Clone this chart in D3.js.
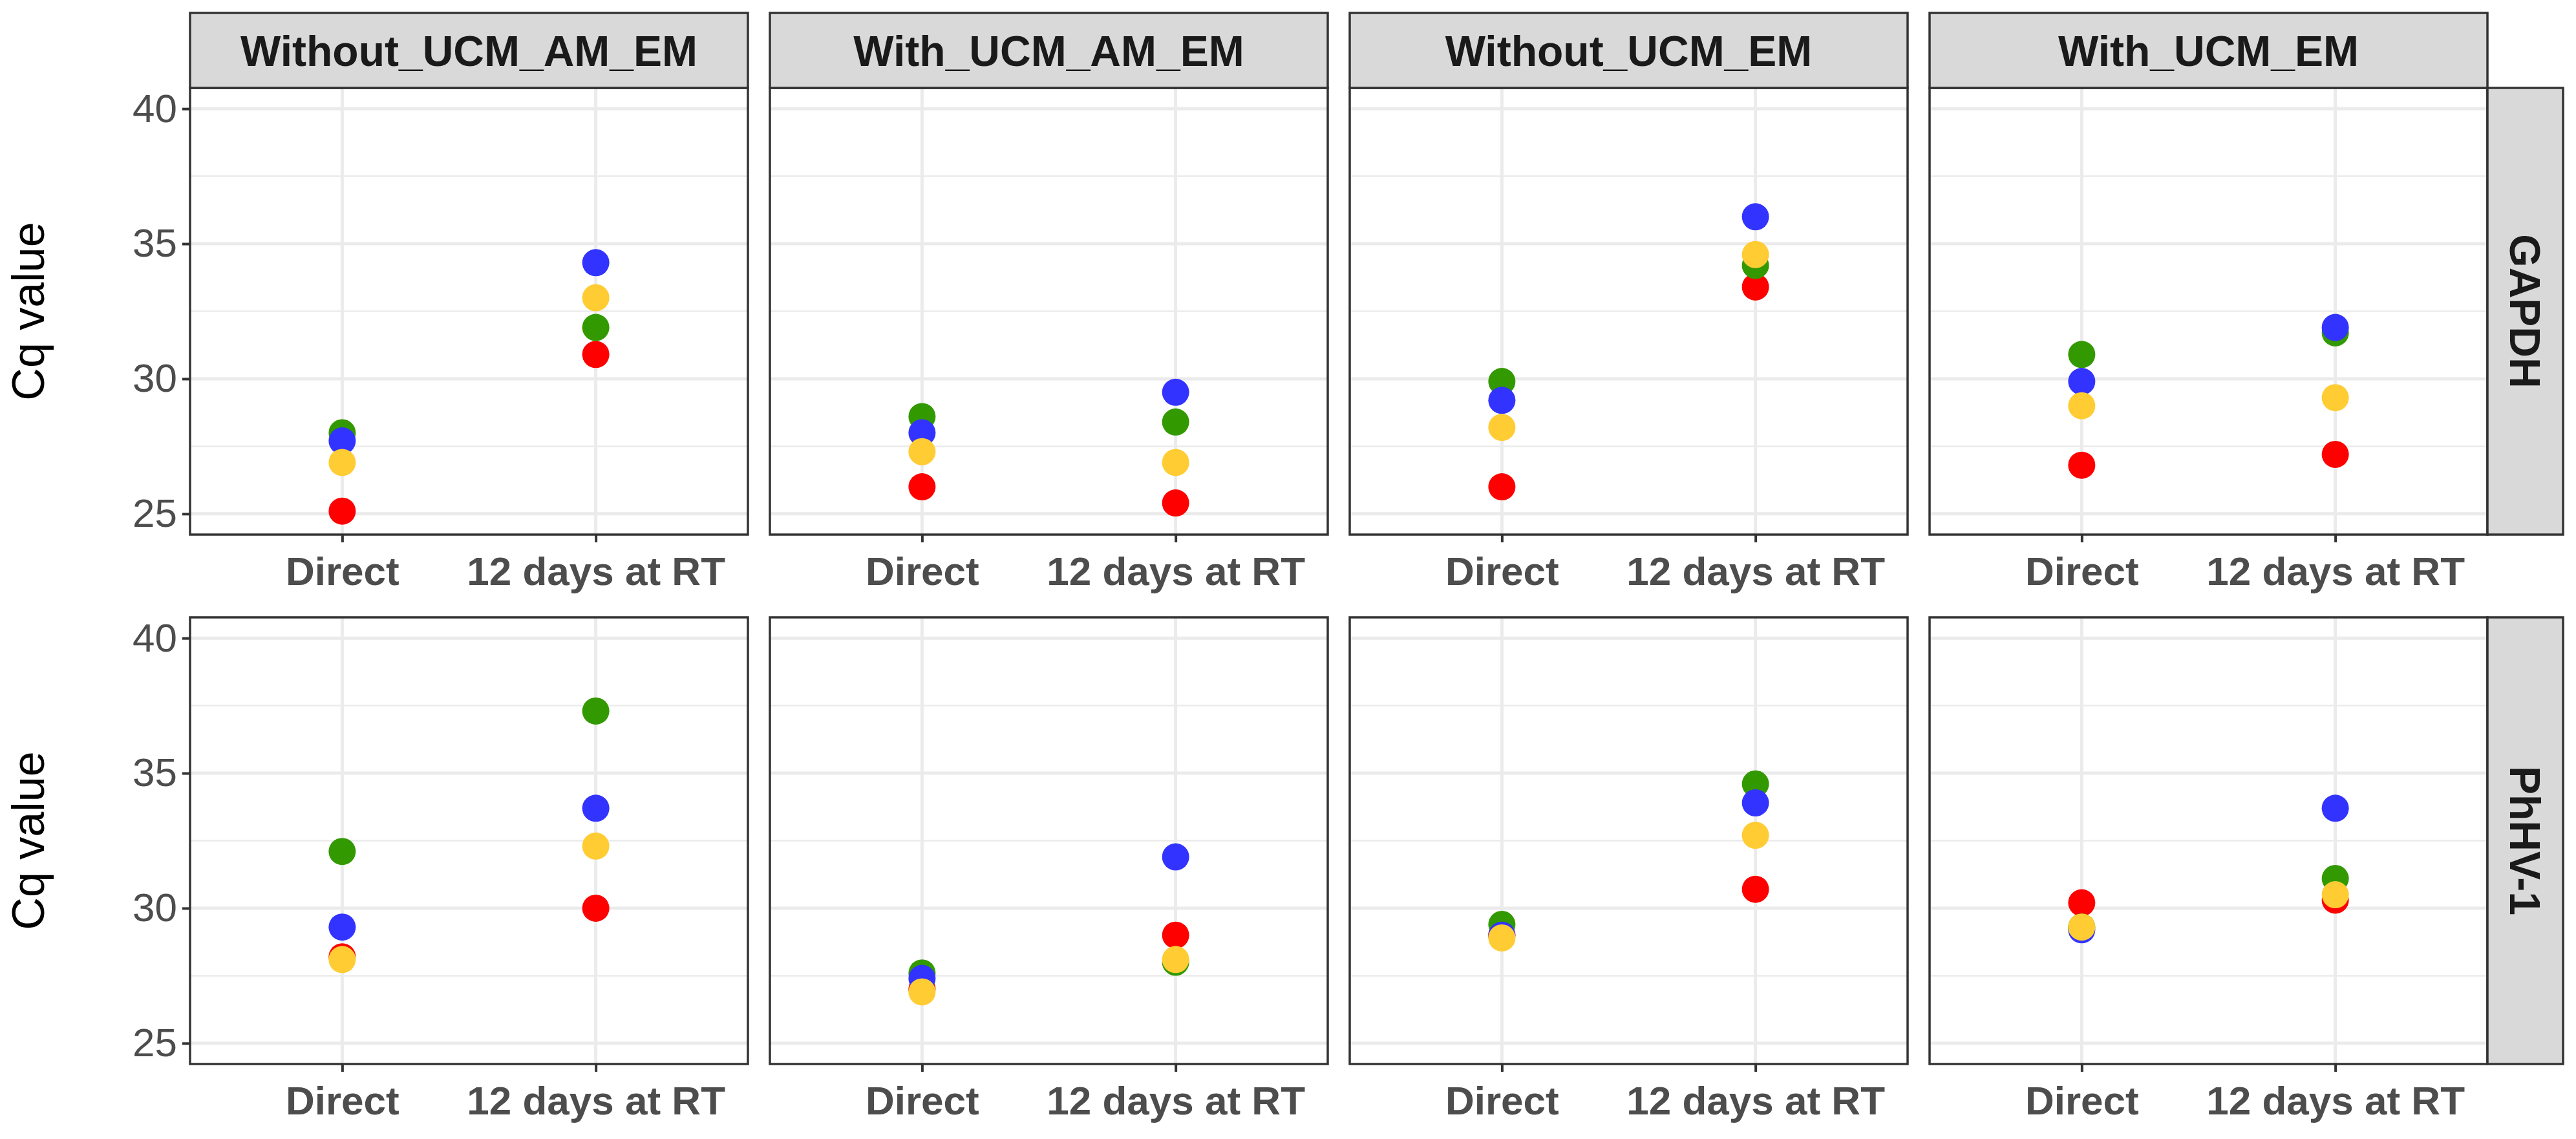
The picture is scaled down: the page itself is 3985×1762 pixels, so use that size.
<!DOCTYPE html><html><head><script src="https://d3js.org/d3.v7.min.js"></script>
<style>body{margin:0;background:#fff}text{font-family:Arial,"Liberation Sans",sans-serif}</style></head><body><svg id="c" width="3985" height="1762"></svg>
<script>
const conditions=["Without_UCM_AM_EM","With_UCM_AM_EM","Without_UCM_EM","With_UCM_EM"];
const targets=["GAPDH","PhHV-1"];
const timepoints=["Direct","12 days at RT"];
const seriesNames=["red","green","blue","yellow"];
const seriesColors=["#FF0000","#339900","#3333FF","#FFCC33"];
const yTicks=[25,30,35,40];
// values[target][condition][series] = [Direct, 12 days]
const gapdhRed=[[25.1,30.9],[26.0,25.4],[26.0,33.4],[26.8,27.2]];
const gapdhGreen=[[28.0,31.9],[28.6,28.4],[29.9,34.2],[30.9,31.7]];
const gapdhBlue=[[27.7,34.3],[28.0,29.5],[29.2,36.0],[29.9,31.9]];
const gapdhYellow=[[26.9,33.0],[27.3,26.9],[28.2,34.6],[29.0,29.3]];
const phhvRed=[[28.2,30.0],[27.0,29.0],[29.0,30.7],[30.2,30.3]];
const phhvGreen=[[32.1,37.3],[27.6,28.0],[29.4,34.6],[29.3,31.1]];
const phhvBlue=[[29.3,33.7],[27.4,31.9],[29.0,33.9],[29.2,33.7]];
const phhvYellow=[[28.1,32.3],[26.9,28.1],[28.9,32.7],[29.3,30.5]];
const data=[[gapdhRed,gapdhGreen,gapdhBlue,gapdhYellow],[phhvRed,phhvGreen,phhvBlue,phhvYellow]];

const svg=d3.select("#c");
const L=294,W=863,G=34,rowTop=[136,955],H=691,stripH=116,stripW=117;
const y=d3.scaleLinear().domain([24.23,40.77]).range([H,0]);
const x=d3.scalePoint().domain(timepoints).range([0,W]).padding(0.6);
targets.forEach((t,ri)=>{
  conditions.forEach((c,ci)=>{
    const g=svg.append("g").attr("transform",`translate(${L+ci*(W+G)},${rowTop[ri]})`);
    g.append("rect").attr("width",W).attr("height",H).attr("fill","#fff");
    const minor=[27.5,32.5,37.5];
    g.selectAll(".mn").data(minor).join("line").attr("x1",0).attr("x2",W).attr("y1",d=>y(d)).attr("y2",d=>y(d)).attr("stroke","#EBEBEB").attr("stroke-width",2.5);
    g.selectAll(".mj").data(yTicks).join("line").attr("x1",0).attr("x2",W).attr("y1",d=>y(d)).attr("y2",d=>y(d)).attr("stroke","#EBEBEB").attr("stroke-width",5);
    g.selectAll(".vx").data(timepoints).join("line").attr("x1",d=>x(d)).attr("x2",d=>x(d)).attr("y1",0).attr("y2",H).attr("stroke","#EBEBEB").attr("stroke-width",5);
    seriesNames.forEach((s,si)=>{
      g.selectAll(".p"+si).data(data[ri][si][ci]).join("circle").attr("cx",(d,i)=>x(timepoints[i])).attr("cy",d=>y(d)).attr("r",21).attr("fill",seriesColors[si]);
    });
    g.append("rect").attr("width",W).attr("height",H).attr("fill","none").attr("stroke","#333").attr("stroke-width",3.5);
    const xa=g.append("g").attr("transform",`translate(0,${H})`).call(d3.axisBottom(x).tickSize(12).tickPadding(22));
    xa.select(".domain").remove();
    xa.selectAll("line").attr("stroke","#333").attr("stroke-width",4);
    xa.selectAll("text").attr("font-size",62).attr("font-weight","bold").attr("fill","#4D4D4D");
    if(ci===0){
      const ya=g.append("g").call(d3.axisLeft(y).tickValues(yTicks).tickSize(12).tickPadding(8));
      ya.select(".domain").remove();
      ya.selectAll("line").attr("stroke","#333").attr("stroke-width",4);
      ya.selectAll("text").attr("font-size",62).attr("fill","#4D4D4D");
      svg.append("text").attr("transform",`translate(68,${rowTop[ri]+H/2}) rotate(-90)`).attr("text-anchor","middle").attr("font-size",70).attr("fill","#000").text("Cq value");
    }
    if(ri===0){
      const s=svg.append("g").attr("transform",`translate(${L+ci*(W+G)},${rowTop[0]-stripH})`);
      s.append("rect").attr("width",W).attr("height",stripH).attr("fill","#D9D9D9").attr("stroke","#333").attr("stroke-width",3.5);
      s.append("text").attr("x",W/2).attr("y",stripH/2).attr("dy","0.36em").attr("text-anchor","middle").attr("font-size",66).attr("font-weight","bold").attr("fill","#1A1A1A").text(c);
    }
    if(ci===3){
      const s=svg.append("g").attr("transform",`translate(${L+4*W+3*G},${rowTop[ri]})`);
      s.append("rect").attr("width",stripW).attr("height",H).attr("fill","#D9D9D9").attr("stroke","#333").attr("stroke-width",3.5);
      s.append("text").attr("transform",`translate(${stripW/2},${H/2}) rotate(90)`).attr("dy","0.36em").attr("text-anchor","middle").attr("font-size",66).attr("font-weight","bold").attr("fill","#1A1A1A").text(t);
    }
  });
});
</script></body></html>
